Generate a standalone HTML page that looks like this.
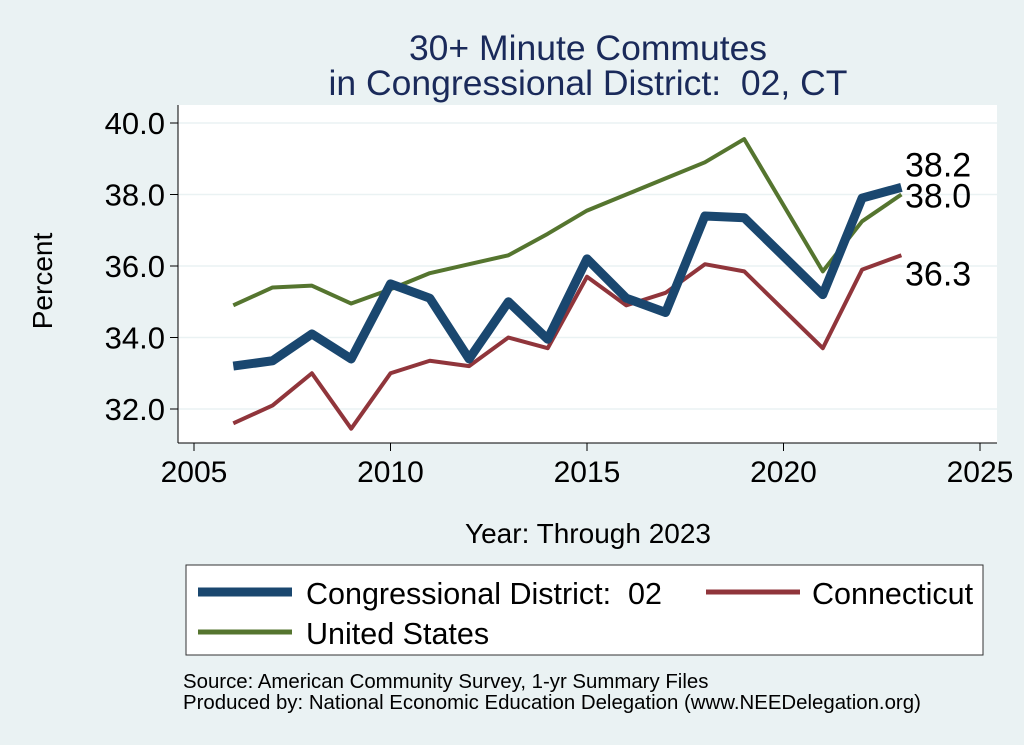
<!DOCTYPE html>
<html><head><meta charset="utf-8"><style>
body{margin:0;background:#eaf2f3;}
svg{display:block;font-family:"Liberation Sans",sans-serif;}
text{white-space:pre;}
</style></head><body>
<svg width="1024" height="745">
<rect x="0" y="0" width="1024" height="745" fill="#eaf2f3"/>
<text x="588" y="60" font-size="35.5" fill="#1a2a5a" text-anchor="middle">30+ Minute Commutes</text>
<text x="588" y="95" font-size="35.5" fill="#1a2a5a" text-anchor="middle">in Congressional District:  02, CT</text>
<rect x="178" y="105" width="819" height="338" fill="#fff"/>
<g id="grid"></g><g id="axes"></g><g id="series"></g>
<text x="52" y="281" font-size="28" text-anchor="middle" transform="rotate(-90 52 281)">Percent</text>
<text x="588" y="543" font-size="28" text-anchor="middle">Year: Through 2023</text>
<g>
<rect x="186" y="565" width="797" height="90" fill="#fff" stroke="#333" stroke-width="1"/>
<line x1="198" y1="592" x2="292" y2="592" stroke="#1a476f" stroke-width="9"/>
<text x="306" y="604" font-size="30.5">Congressional District:  02</text>
<line x1="706" y1="592" x2="800" y2="592" stroke="#90353b" stroke-width="5"/>
<text x="812" y="604" font-size="30.5">Connecticut</text>
<line x1="198" y1="632" x2="292" y2="632" stroke="#55752f" stroke-width="5"/>
<text x="306" y="644" font-size="30.5">United States</text>
</g>
<text x="183" y="688" font-size="20.4">Source: American Community Survey, 1-yr Summary Files</text>
<text x="183" y="709" font-size="20.4">Produced by: National Economic Education Delegation (www.NEEDelegation.org)</text>
</svg>
<script>
const years=[2006,2007,2008,2009,2010,2011,2012,2013,2014,2015,2016,2017,2018,2019,2020,2021,2022,2023];
const cd02=[33.2,33.35,34.1,33.4,35.5,35.1,33.4,35.0,33.95,36.2,35.1,34.7,37.4,37.35,null,35.2,37.9,38.2];
const ct=[31.6,32.1,33.0,31.45,33.0,33.35,33.2,34.0,33.7,35.7,34.9,35.25,36.05,35.85,null,33.7,35.9,36.3];
const us=[34.9,35.4,35.45,34.95,35.35,35.8,36.05,36.3,36.9,37.55,38.0,38.45,38.9,39.55,null,35.85,37.25,38.0];
const yTicks=[32,34,36,38,40];
const xTicks=[2005,2010,2015,2020,2025];
const NS='http://www.w3.org/2000/svg';
const X=v=>194+(v-2005)*(980-194)/20;
const Y=v=>409-(v-32)*(409-123)/8;
function mk(t,a,p){const e=document.createElementNS(NS,t);for(const k in a)e.setAttribute(k,a[k]);p.appendChild(e);return e;}
const grid=document.getElementById('grid'),axes=document.getElementById('axes'),ser=document.getElementById('series');
mk('line',{x1:178,y1:105,x2:178,y2:443,stroke:'#000','stroke-width':1},axes);
mk('line',{x1:178,y1:443,x2:997,y2:443,stroke:'#000','stroke-width':1},axes);
yTicks.forEach(v=>{
 const g=mk('line',{x1:178,y1:Y(v),x2:997,y2:Y(v),stroke:'#eaf2f3','stroke-width':1.5},grid);
 
 
 mk('line',{x1:170,y1:Y(v),x2:178,y2:Y(v),stroke:'#000'},axes);
 const t=mk('text',{x:165,y:Y(v)+11,'font-size':31,'text-anchor':'end'},axes);t.textContent=v.toFixed(1);
 
 
});
xTicks.forEach(v=>{
 mk('line',{x1:X(v),y1:443,x2:X(v),y2:451,stroke:'#000'},axes);
 const t=mk('text',{x:X(v),y:482,'font-size':30,'text-anchor':'middle'},axes);t.textContent=v;
 
 
});
function path(vals){let d='',pen=false;vals.forEach((v,i)=>{if(v==null)return;d+=(pen?'L':'M')+X(years[i])+','+Y(v);pen=true;});return d;}
[[us,'#55752f',4,'line-us'],[ct,'#90353b',4,'line-ct'],[cd02,'#1a476f',9,'line-cd02']].forEach(([vals,c,w,n])=>{
 const p=mk('path',{d:path(vals),fill:'none',stroke:c,'stroke-width':w,'stroke-linejoin':'round'},ser);
 
 
});
[[cd02,-11,'label-cd02-last'],[us,13,'label-us-last'],[ct,30,'label-ct-last']].forEach(([vals,dy,n])=>{
 const v=vals[vals.length-1];
 const t=mk('text',{x:905,y:Y(v)+dy,'font-size':34},ser);t.textContent=v.toFixed(1);
 
 
});
</script>
</body></html>
